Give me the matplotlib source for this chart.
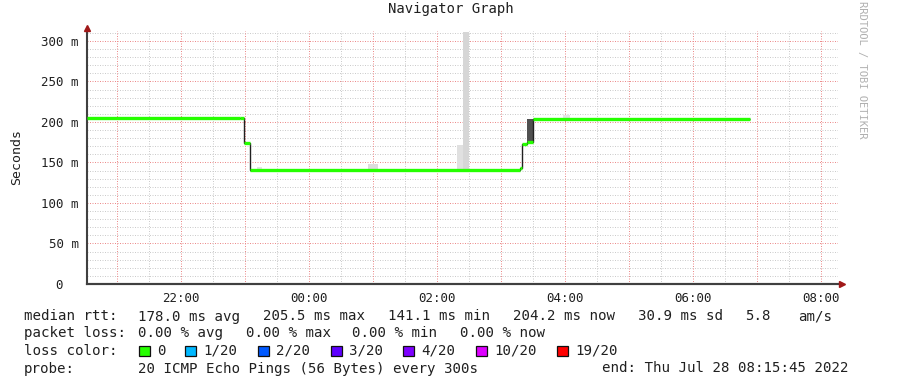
import matplotlib
matplotlib.use("Agg")
import matplotlib.pyplot as plt
import numpy as np

plt.rcParams['font.family'] = ['DejaVu Sans Mono']

# time in hours relative to midnight (Jul 28 2022)
x_start = -3.47
x_end = 8.2625

# median rtt steps (ms)
median_edges = [-3.47, -1.078, -1.01, -0.92, 3.29, 3.32, 3.41, 3.49, 6.89]
median_vals = [205.5, 204.3, 173.5, 141.1, 143.0, 172.5, 175.3, 204.2]

# smoke (ping spread) blocks
smoke_start = [-0.81, 0.92, 2.31, 2.41, 3.41, 3.97]
smoke_end = [-0.73, 1.08, 2.5, 2.5, 3.49, 4.08]
smoke_lo = [141.1, 141.1, 141.1, 141.1, 175.3, 204.2]
smoke_hi = [144.0, 148.0, 171.0, 311.0, 204.2, 208.0]
smoke_gray = ['#e4e4e4', '#dcdcdc', '#e0e0e0', '#d6d6d6', '#505050', '#e4e4e4']

y_ticks = [0, 50, 100, 150, 200, 250, 300]
y_labels = ['0  ', '50 m', '100 m', '150 m', '200 m', '250 m', '300 m']
x_ticks = [-2, 0, 2, 4, 6, 8]
x_labels = ['22:00', '00:00', '02:00', '04:00', '06:00', '08:00']

loss_labels = ['0', '1/20', '2/20', '3/20', '4/20', '10/20', '19/20']
loss_colors = ['#26ff00', '#00b8ff', '#0059ff', '#5e00ff', '#7e00ff', '#dd00ff', '#ff0000']

fig = plt.figure(figsize=(8.97, 3.92), dpi=100)
ax = fig.add_axes([87/897, 1 - 284/392, (838-87)/897, (284-31)/392])
ax.set_xlim(x_start, x_end)
ax.set_ylim(0, 312.3)

# grid: minor grey, major red
for y in range(10, 312, 10):
    c = '#ec8c8c' if y % 50 == 0 else '#cccccc'
    ax.axhline(y, color=c, lw=0.72, ls=(0, (1, 1.5)), zorder=0)
for h in np.arange(-3, 8.3, 0.5):
    c = '#ec8c8c' if h == int(h) else '#cccccc'
    ax.axvline(h, color=c, lw=0.72, ls=(0, (1, 1.5)), zorder=0)

# smoke
ax.bar(smoke_start, np.array(smoke_hi) - np.array(smoke_lo),
       width=np.array(smoke_end) - np.array(smoke_start),
       bottom=smoke_lo, align='edge', color=smoke_gray, lw=0, zorder=1)

# median: thin dark step line then loss coloured segments
ax.stairs(median_vals, median_edges, baseline=None, color='#202020', lw=1.0, zorder=2)
ax.hlines(median_vals, median_edges[:-1], median_edges[1:], color='#26ff00', lw=2.4, zorder=3)

for s in ['top', 'right']:
    ax.spines[s].set_visible(False)
for s in ['left', 'bottom']:
    ax.spines[s].set_color('#404040')
    ax.spines[s].set_linewidth(1.5)

ax.set_yticks(y_ticks)
ax.set_yticklabels(y_labels)
ax.set_xticks(x_ticks)
ax.set_xticklabels(x_labels)
ax.tick_params(axis='both', length=0, labelsize=9, colors='#202020')
ax.tick_params(axis='y', pad=6)
ax.tick_params(axis='x', pad=6)

# arrows
ax.plot([1.005], [0], marker='>', ms=5, color='#a01818', transform=ax.transAxes, clip_on=False, zorder=5)
ax.plot([0, 1.0], [0, 0], color='#404040', lw=1.5, transform=ax.transAxes, clip_on=False, zorder=4)
ax.plot([0], [1.012], marker='^', ms=5, color='#a01818', transform=ax.transAxes, clip_on=False, zorder=5)

fig.text(451/897, 1 - 9/392, 'Navigator Graph', ha='center', va='center', fontsize=10, color='#202020')
fig.text(17/897, 1 - 157/392, 'Seconds', rotation=90, ha='center', va='center', fontsize=9.5, color='#202020')
fig.text(862/897, 1 - 1/392, 'RRDTOOL / TOBI OETIKER', rotation=270, ha='center', va='top',
         fontsize=7.5, color='#b0b0b0')

def put(x, y, s):
    fig.text(x/897, 1 - y/392, s, ha='left', va='center', fontsize=10.2, color='#202020')

row1 = [(24, 'median rtt:'), (138, '178.0 ms avg'), (263, '205.5 ms max'), (388, '141.1 ms min'),
        (513, '204.2 ms now'), (638, '30.9 ms sd'), (745, '5.8'), (798, 'am/s')]
row2 = [(24, 'packet loss:'), (138, '0.00 % avg'), (246, '0.00 % max'), (352, '0.00 % min'),
        (460, '0.00 % now')]
for x, s in row1:
    put(x, 316.5, s)
for x, s in row2:
    put(x, 333, s)

put(24, 351, 'loss color:')
box_x = [139, 185, 258, 331, 403, 476, 557]
for bx, lab, col in zip(box_x, loss_labels, loss_colors):
    fig.patches.append(plt.Rectangle((bx/897, 1 - 356/392), 11/897, 10/392, transform=fig.transFigure,
                                     facecolor=col, edgecolor='#101010', lw=0.9))
    put(bx + 18, 351, lab)

put(24, 368.5, 'probe:')
put(138, 368.5, '20 ICMP Echo Pings (56 Bytes) every 300s')
put(602, 368.5, 'end: Thu Jul 28 08:15:45 2022')

fig.savefig('out.png', dpi=100, facecolor='white')
